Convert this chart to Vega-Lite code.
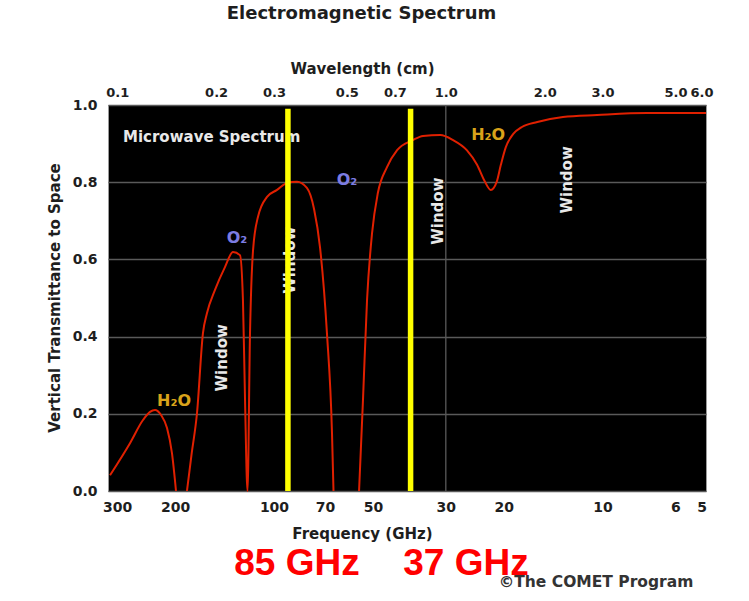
{
  "$schema": "https://vega.github.io/schema/vega-lite/v6.json",
  "width": 598,
  "height": 386,
  "autosize": {"type": "none"},
  "padding": {"left": 108, "top": 105, "right": 43, "bottom": 110},
  "background": "white",
  "title": {
    "text": "Electromagnetic Spectrum",
    "font": "DejaVu Sans",
    "fontSize": 18,
    "fontWeight": "bold",
    "color": "#1e1e1e",
    "anchor": "middle",
    "dx": -45.5,
    "offset": 38
  },
  "config": {
    "view": {"fill": "#000000", "stroke": "#9a9a9a", "strokeWidth": 1},
    "axis": {
      "domain": false,
      "ticks": false,
      "tickSize": 0,
      "grid": false,
      "labelFont": "DejaVu Sans",
      "labelFontWeight": "bold",
      "labelFontSize": 14,
      "labelColor": "#1e1e1e",
      "titleFont": "DejaVu Sans",
      "titleFontWeight": "bold",
      "titleFontSize": 15,
      "titleColor": "#1e1e1e",
      "labelFlush": false,
      "labelOverlap": false,
      "labelBound": false
    },
    "axisY": {"grid": true, "gridColor": "#5a5a5a", "gridWidth": 1.3}
  },
  "resolve": {"scale": {"x": "independent"}, "axis": {"x": "independent"}},
  "layer": [
    {
      "data": {"values": [{"wavelength": 1.0}]},
      "mark": {"type": "rule", "color": "#5a5a5a", "strokeWidth": 1.3},
      "encoding": {
        "x": {
          "field": "wavelength",
          "type": "quantitative",
          "scale": {"type": "log", "domain": [0.09375, 6.192], "nice": false},
          "axis": {
            "orient": "top",
            "values": [0.1, 0.2, 0.3, 0.5, 0.7, 1, 2, 3, 5, 6],
            "format": ".1f",
            "title": "Wavelength (cm)",
            "titleX": 254,
            "titleY": -37,
            "titleBaseline": "middle",
            "labelFontSize": 13,
            "labelPadding": 6
          }
        }
      }
    },
    {
      "encoding": {
        "x": {
          "field": "freq",
          "type": "quantitative",
          "scale": {"type": "log", "domain": [4.845, 320], "reverse": true, "nice": false},
          "axis": {
            "orient": "bottom",
            "values": [300, 200, 100, 70, 50, 30, 20, 10, 6, 5],
            "format": "d",
            "title": "Frequency (GHz)",
            "titleX": 254,
            "titleY": 42,
            "titleBaseline": "middle",
            "labelPadding": 9
          }
        },
        "y": {
          "field": "T",
          "type": "quantitative",
          "scale": {"domain": [0, 1], "nice": false, "zero": false},
          "axis": {
            "values": [0, 0.2, 0.4, 0.6, 0.8, 1.0],
            "format": ".1f",
            "title": "Vertical Transmittance to Space",
            "titleX": -53.5,
            "titleY": 192.5,
            "titleBaseline": "middle",
            "labelPadding": 11
          }
        }
      },
      "layer": [
        {
          "data": {"values": [
            {"seg": 1, "freq": 315.5, "T": 0.041},
            {"seg": 1, "freq": 274.3, "T": 0.124},
            {"seg": 1, "freq": 250.4, "T": 0.184},
            {"seg": 1, "freq": 238.4, "T": 0.205},
            {"seg": 1, "freq": 230.2, "T": 0.210},
            {"seg": 1, "freq": 220.7, "T": 0.197},
            {"seg": 1, "freq": 211.6, "T": 0.163},
            {"seg": 1, "freq": 204.4, "T": 0.098},
            {"seg": 1, "freq": 198.7, "T": 0.0},
            {"seg": 2, "freq": 184.0, "T": 0.0},
            {"seg": 2, "freq": 178.3, "T": 0.093},
            {"seg": 2, "freq": 171.5, "T": 0.202},
            {"seg": 2, "freq": 164.5, "T": 0.409},
            {"seg": 2, "freq": 159.9, "T": 0.461},
            {"seg": 2, "freq": 151.2, "T": 0.521},
            {"seg": 2, "freq": 141.0, "T": 0.580},
            {"seg": 2, "freq": 133.3, "T": 0.619},
            {"seg": 2, "freq": 126.9, "T": 0.611},
            {"seg": 2, "freq": 124.3, "T": 0.495},
            {"seg": 2, "freq": 122.5, "T": 0.236},
            {"seg": 2, "freq": 120.4, "T": 0.0},
            {"seg": 2, "freq": 118.3, "T": 0.409},
            {"seg": 2, "freq": 115.8, "T": 0.624},
            {"seg": 2, "freq": 111.9, "T": 0.710},
            {"seg": 2, "freq": 105.0, "T": 0.762},
            {"seg": 2, "freq": 97.9, "T": 0.780},
            {"seg": 2, "freq": 91.3, "T": 0.798},
            {"seg": 2, "freq": 85.1, "T": 0.801},
            {"seg": 2, "freq": 79.4, "T": 0.785},
            {"seg": 2, "freq": 75.5, "T": 0.730},
            {"seg": 2, "freq": 72.4, "T": 0.630},
            {"seg": 2, "freq": 69.0, "T": 0.409},
            {"seg": 2, "freq": 66.6, "T": 0.150},
            {"seg": 2, "freq": 65.9, "T": 0.0},
            {"seg": 3, "freq": 55.1, "T": 0.0},
            {"seg": 3, "freq": 53.6, "T": 0.236},
            {"seg": 3, "freq": 52.1, "T": 0.495},
            {"seg": 3, "freq": 50.3, "T": 0.668},
            {"seg": 3, "freq": 48.3, "T": 0.772},
            {"seg": 3, "freq": 45.3, "T": 0.839},
            {"seg": 3, "freq": 42.2, "T": 0.883},
            {"seg": 3, "freq": 37.8, "T": 0.909},
            {"seg": 3, "freq": 35.2, "T": 0.920},
            {"seg": 3, "freq": 31.2, "T": 0.922},
            {"seg": 3, "freq": 28.5, "T": 0.909},
            {"seg": 3, "freq": 25.9, "T": 0.883},
            {"seg": 3, "freq": 24.1, "T": 0.845},
            {"seg": 3, "freq": 22.8, "T": 0.801},
            {"seg": 3, "freq": 21.9, "T": 0.780},
            {"seg": 3, "freq": 21.0, "T": 0.801},
            {"seg": 3, "freq": 20.4, "T": 0.845},
            {"seg": 3, "freq": 19.7, "T": 0.891},
            {"seg": 3, "freq": 18.7, "T": 0.925},
            {"seg": 3, "freq": 17.6, "T": 0.943},
            {"seg": 3, "freq": 15.8, "T": 0.956},
            {"seg": 3, "freq": 13.2, "T": 0.969},
            {"seg": 3, "freq": 10.4, "T": 0.974},
            {"seg": 3, "freq": 7.33, "T": 0.979},
            {"seg": 3, "freq": 4.845, "T": 0.979}
          ]},
          "mark": {"type": "line", "color": "#e02000", "strokeWidth": 2, "interpolate": "monotone"},
          "encoding": {"detail": {"field": "seg", "type": "nominal"}}
        },
        {
          "data": {"values": [{"freq": 288.1, "T": 0.917, "label": "Microwave Spectrum"}]},
          "mark": {"type": "text", "align": "left", "baseline": "middle", "font": "DejaVu Sans", "fontWeight": "bold", "fontSize": 15, "color": "#e8e8e8"},
          "encoding": {"text": {"field": "label"}}
        },
        {
          "data": {"values": [
            {"freq": 129.6, "T": 0.655, "label": "O₂"},
            {"freq": 59.96, "T": 0.806, "label": "O₂"}
          ]},
          "mark": {"type": "text", "align": "center", "baseline": "middle", "font": "DejaVu Sans", "fontWeight": "bold", "fontSize": 16, "color": "#7c7ce2"},
          "encoding": {"text": {"field": "label"}}
        },
        {
          "data": {"values": [
            {"freq": 201.5, "T": 0.233, "label": "H₂O"},
            {"freq": 22.3, "T": 0.922, "label": "H₂O"}
          ]},
          "mark": {"type": "text", "align": "center", "baseline": "middle", "font": "DejaVu Sans", "fontWeight": "bold", "fontSize": 16, "color": "#d9a31a"},
          "encoding": {"text": {"field": "label"}}
        },
        {
          "data": {"values": [
            {"freq": 144.0, "T": 0.345, "label": "Window"},
            {"freq": 89.7, "T": 0.598, "label": "Window"},
            {"freq": 31.7, "T": 0.725, "label": "Window"},
            {"freq": 12.83, "T": 0.806, "label": "Window"}
          ]},
          "mark": {"type": "text", "align": "center", "baseline": "middle", "angle": 270, "font": "DejaVu Sans", "fontWeight": "bold", "fontSize": 15, "color": "#e8e8e8"},
          "encoding": {"text": {"field": "label"}}
        },
        {
          "data": {"values": [
            {"freq": 90.7, "T": 0.0, "T2": 0.99},
            {"freq": 38.4, "T": 0.0, "T2": 0.99}
          ]},
          "mark": {"type": "rule", "color": "#ffff00", "strokeWidth": 5.5},
          "encoding": {"y2": {"field": "T2"}}
        },
        {
          "data": {"values": [
            {"freq": 85.1, "T": -0.188, "label": "85 GHz"},
            {"freq": 26.05, "T": -0.188, "label": "37 GHz"}
          ]},
          "mark": {"type": "text", "align": "center", "baseline": "middle", "font": "Liberation Sans", "fontWeight": "bold", "fontSize": 37, "color": "#ff0000"},
          "encoding": {"text": {"field": "label"}}
        },
        {
          "data": {"values": [
            {"freq": 10.47, "T": -0.237, "label": "©The COMET Program"}
          ]},
          "mark": {"type": "text", "align": "center", "baseline": "middle", "font": "DejaVu Sans", "fontWeight": "bold", "fontSize": 15.5, "color": "#333333"},
          "encoding": {"text": {"field": "label"}}
        }
      ]
    }
  ]
}
